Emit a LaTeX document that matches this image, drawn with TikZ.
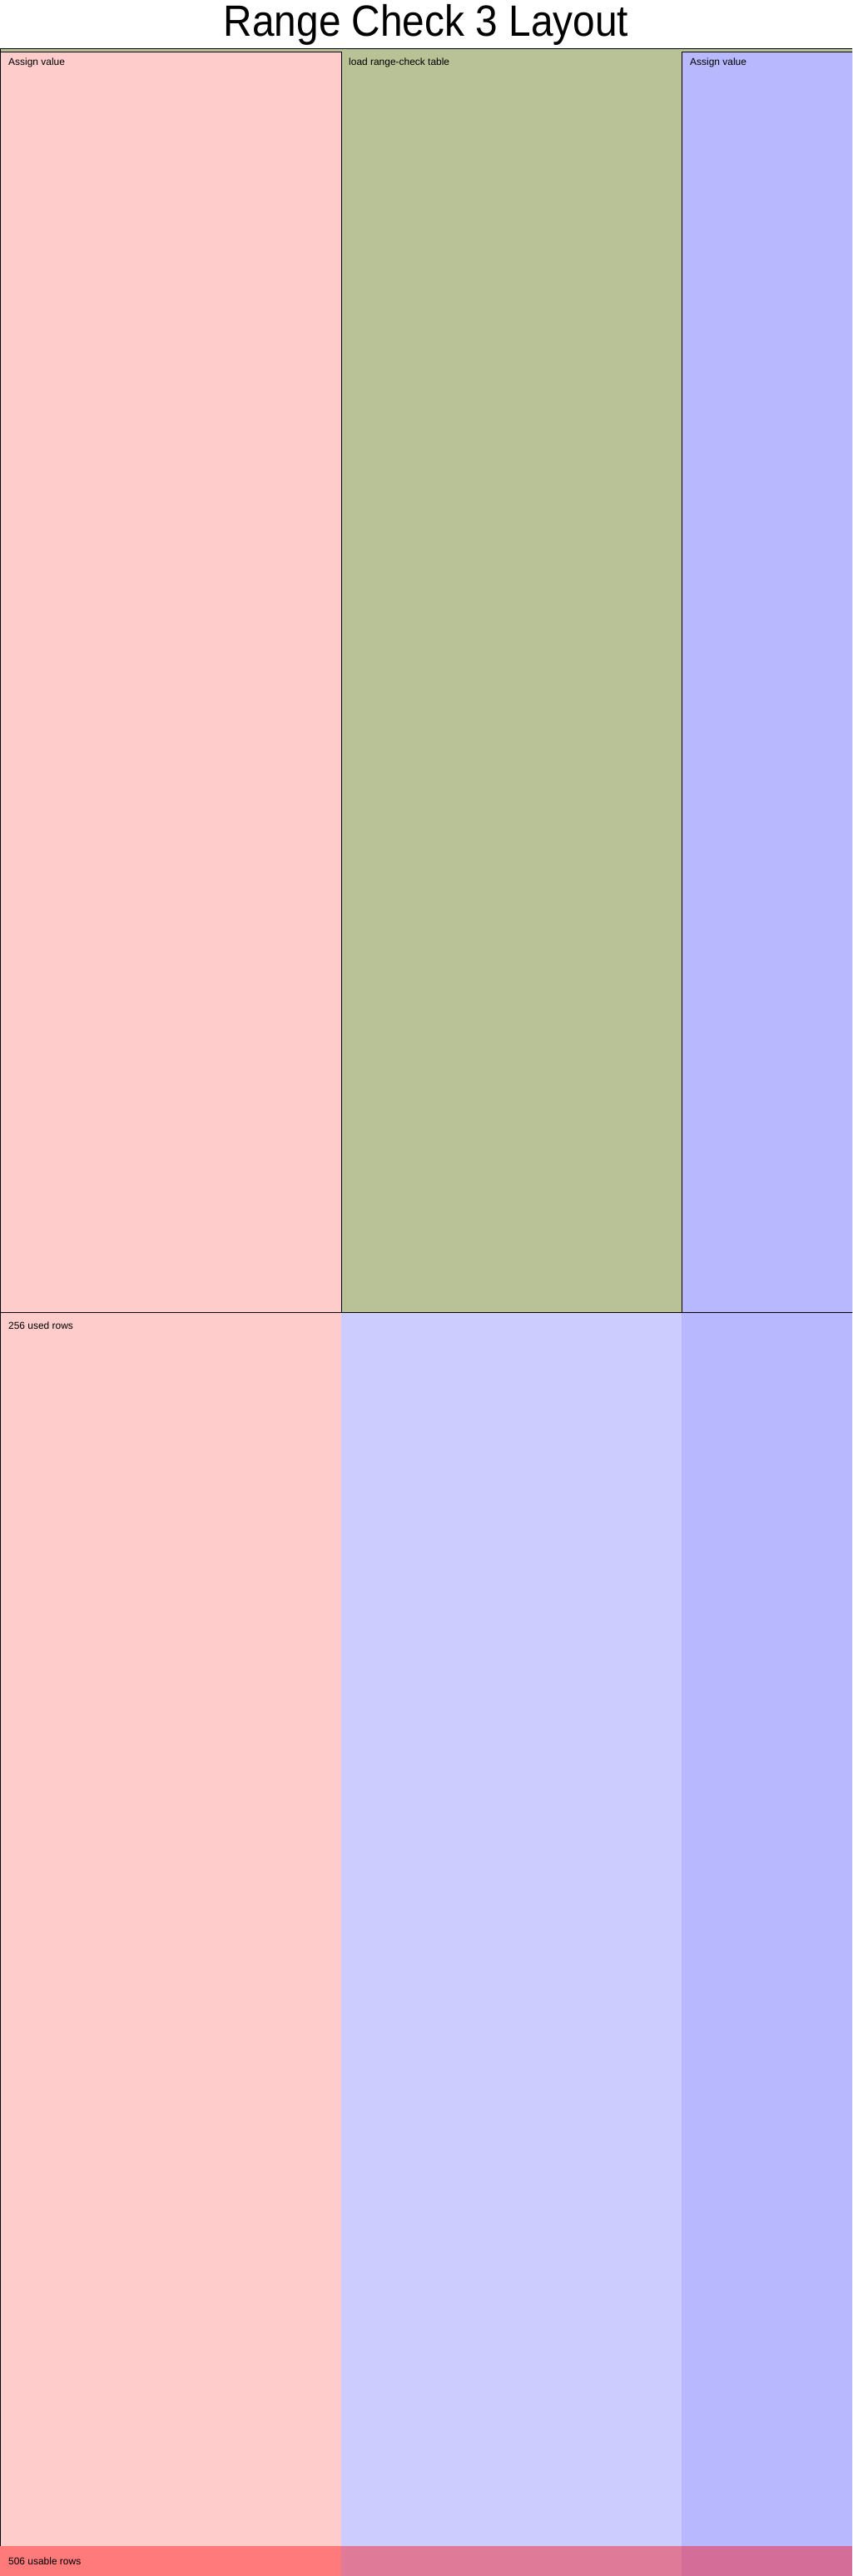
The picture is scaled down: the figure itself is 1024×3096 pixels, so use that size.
\documentclass[tikz,border=0pt]{standalone}
\usepackage{fontspec}
\setmainfont{Liberation Sans}
\usetikzlibrary{positioning}

\definecolor{rowpink}{HTML}{FFCCCC}
\definecolor{rowblue}{HTML}{CCCCFF}
\definecolor{rowdeep}{HTML}{B8B8FF}
\definecolor{tablegreen}{HTML}{B8C296}

\begin{document}
\begin{tikzpicture}[
x=1bp, y=-1bp,
lane/.style={rectangle, anchor=north west, inner sep=0pt, outer sep=0pt},
region/.style={lane, draw, line width=1bp},
tag/.style={anchor=base west, inner sep=0pt, font=\fontsize{12}{14}\selectfont},
title/.style={anchor=base, inner sep=0pt, font=\fontsize{48}{50}\selectfont}
]
\useasboundingbox (0,0) rectangle (1024,3096);
\clip (0,0) rectangle (1024,3096);

\node[title, yscale=1.1] (head) at (512,44) {Range Check 3 Layout};

% column lanes
\node[lane, fill=rowpink, minimum width=410bp, minimum height=3037bp] (laneA) at (0,59) {};
\node[lane, fill=rowblue, minimum width=409bp, minimum height=3037bp] (laneB) at (410,59) {};
\node[lane, fill=rowdeep, minimum width=220bp, minimum height=3037bp] (laneC) at (819,59) {};

% table loading region
\node[region, fill=tablegreen, minimum width=1040bp, minimum height=1518bp] (table) at (0,59) {};
\node[region, fill=rowpink, minimum width=410bp, minimum height=1514bp] (assignA) at (0,63) {};
\node[region, fill=rowdeep, minimum width=220bp, minimum height=1514bp] (assignC) at (819,63) {};

\node[tag] (assignAtxt) at (10,79) {Assign value};
\node[tag] (tabletxt) at (419,79) {load range-check table};
\node[tag] (assignCtxt) at (829,79) {Assign value};

% used rows
\node[lane, minimum width=1040bp, minimum height=1483bp] (used) at (0,1577) {};
\draw[line width=1bp] (used.south west) -- (used.north west) -- (used.north east);
\node[tag] (usedtxt) at (10,1597) {256 used rows};

% usable rows
\node[lane, fill=red, fill opacity=0.4, minimum width=1024bp, minimum height=36bp] (usable) at (0,3060) {};
\node[tag] (usabletxt) at (10,3082) {506 usable rows};
\end{tikzpicture}
\end{document}
